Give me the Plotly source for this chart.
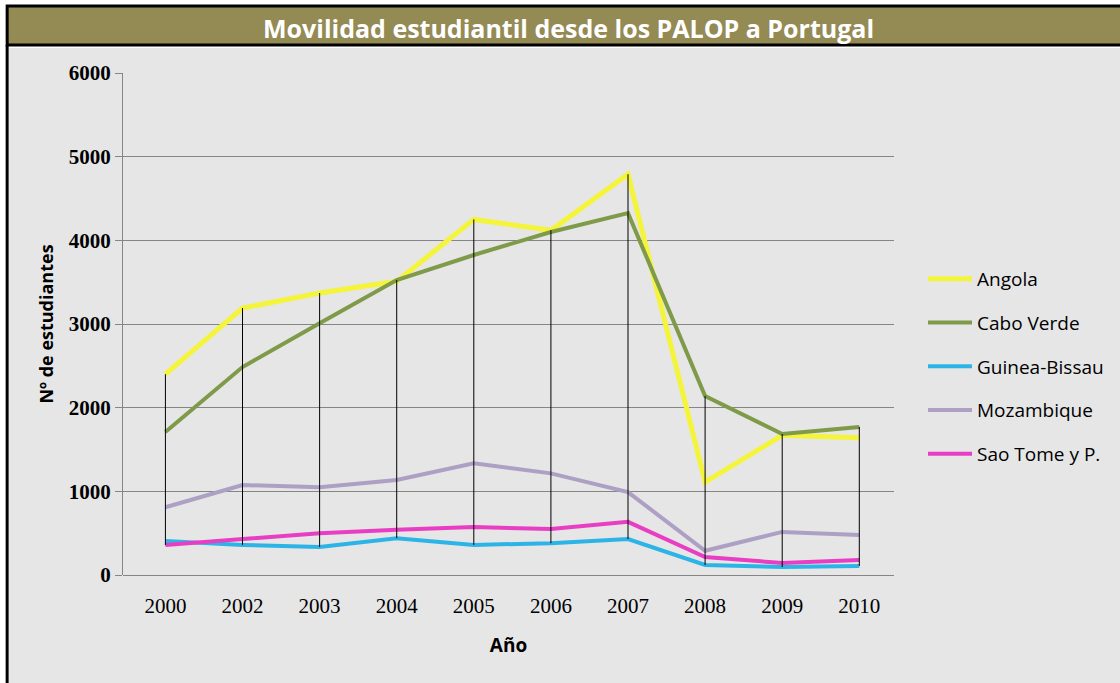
import plotly.graph_objects as go

years = ["2000", "2002", "2003", "2004", "2005", "2006", "2007", "2008", "2009", "2010"]
angola = [2400, 3190, 3370, 3510, 4250, 4120, 4790, 1110, 1670, 1640]
cabo_verde = [1710, 2485, 3010, 3525, 3825, 4100, 4325, 2140, 1685, 1770]
guinea_bissau = [405, 360, 335, 440, 360, 380, 430, 120, 95, 108]
mozambique = [810, 1075, 1050, 1135, 1335, 1215, 990, 290, 515, 478]
sao_tome = [358, 430, 500, 540, 573, 550, 635, 215, 143, 178]

series = [
    ("Angola", angola, "#F4F43A", 5),
    ("Cabo Verde", cabo_verde, "#7F9A48", 4),
    ("Guinea-Bissau", guinea_bissau, "#2DB4E6", 4),
    ("Mozambique", mozambique, "#ADA0C4", 4),
    ("Sao Tome y P.", sao_tome, "#E83EC4", 4),
]

W, H = 1120, 683
ML, MR, MT, MB = 123, 225, 73, 108
PW = W - ML - MR
PH = H - MT - MB


def px2x(px):
    return (px - ML) / PW


def py2y(py):
    return (H - MB - py) / PH


fig = go.Figure()
for i, (name, vals, color, width) in enumerate(series):
    fig.add_trace(go.Scatter(
        x=years, y=vals, name=name, mode="lines",
        line=dict(color=color, width=width),
        legendgroup=f"g{i}",
    ))

# high-low lines (max to min of all series per category)
hx, hy = [], []
all_vals = [s[1] for s in series]
for j, yr in enumerate(years):
    col = [v[j] for v in all_vals]
    hx += [yr, yr, None]
    hy += [max(col), min(col), None]
fig.add_trace(go.Scatter(x=hx, y=hy, mode="lines", showlegend=False,
                         line=dict(color="black", width=1), hoverinfo="skip"))

sans = "Open Sans, sans-serif"
serif = "Liberation Serif, DejaVu Serif, serif"

fig.update_layout(
    width=W, height=H,
    margin=dict(l=ML, r=MR, t=MT, b=MB, pad=0),
    paper_bgcolor="white",
    plot_bgcolor="#E6E6E6",
    showlegend=True,
    legend=dict(
        x=px2x(923), y=py2y(260), xanchor="left", yanchor="top",
        font=dict(family=sans, size=19, color="black"),
        bgcolor="rgba(0,0,0,0)", tracegroupgap=16,
        itemwidth=44,
    ),
    xaxis=dict(
        type="category", showgrid=False, showline=False, zeroline=False,
        ticks="outside", ticklen=12, tickcolor="rgba(0,0,0,0)",
        tickfont=dict(family=serif, size=21, color="black"),
        title=dict(text="<b>Año</b>", font=dict(family=sans, size=19, color="black"), standoff=21),
        range=[-0.55, 9.45],
    ),
    yaxis=dict(
        range=[0, 6000], dtick=1000, showgrid=True, gridcolor="#858585", gridwidth=1,
        showline=True, linecolor="#858585", linewidth=1,
        ticks="outside", ticklen=7, tickcolor="#858585",
        zeroline=True, zerolinecolor="#858585", zerolinewidth=1,
        tickfont=dict(family=serif, size=21, color="black"),
        tickformat="d", tickprefix="<b>", ticksuffix="</b>",
        title=dict(text="<b>Nº de estudiantes</b>", font=dict(family=sans, size=18, color="black"), standoff=10),
    ),
    shapes=[
        dict(type="rect", xref="paper", yref="paper", layer="below",
             x0=px2x(9), x1=px2x(1125), y0=py2y(48), y1=py2y(690),
             fillcolor="#E6E6E6", line=dict(width=0)),
        dict(type="rect", xref="paper", yref="paper",
             x0=px2x(7), x1=px2x(1130), y0=py2y(6), y1=py2y(45),
             fillcolor="#948A54", line=dict(color="black", width=3)),
        dict(type="line", xref="paper", yref="paper",
             x0=px2x(7), x1=px2x(7), y0=py2y(45), y1=py2y(690),
             line=dict(color="black", width=3)),
    ],
    annotations=[
        dict(text="<b>Movilidad estudiantil desde los PALOP a Portugal</b>",
             xref="paper", yref="paper", x=px2x(569), y=py2y(28),
             xanchor="center", yanchor="middle", showarrow=False,
             font=dict(family=sans, size=25, color="white")),
    ],
)

fig.write_html("out.html", config={"displayModeBar": False},
               post_script="document.body.style.margin='0';document.body.style.overflow='hidden';")
